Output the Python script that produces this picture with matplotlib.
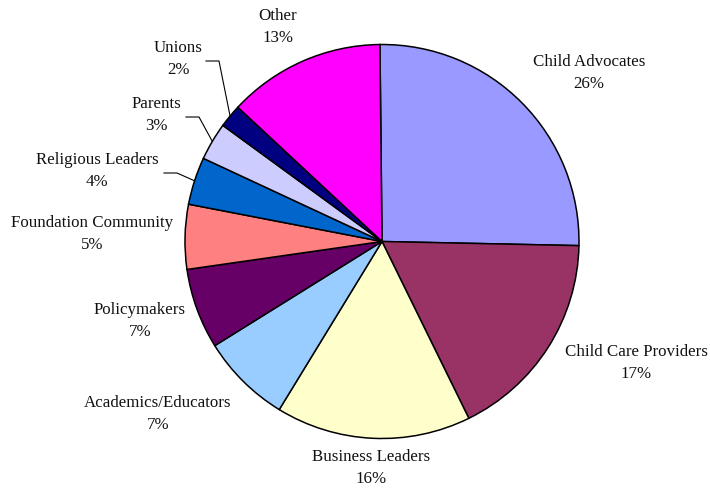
import numpy as np
import matplotlib
matplotlib.use("Agg")
import matplotlib.pyplot as plt

categories = ['Child Advocates', 'Child Care Providers', 'Business Leaders',
              'Academics/Educators', 'Policymakers', 'Foundation Community',
              'Religious Leaders', 'Parents', 'Unions', 'Other']
shares = [25.5, 17.4, 16.0, 7.4, 6.6, 5.3, 3.9, 3.1, 1.9, 12.9]
colors = ['#9999FF', '#993366', '#FFFFCC', '#99CCFF', '#660066',
          '#FF8080', '#0066CC', '#CCCCFF', '#000080', '#FF00FF']

# label block centres in pixels (x from left, y from top)
label_pos = [(589, 73), (636, 363), (371, 468), (158, 414), (140, 321),
             (92, 234), (97, 171), (156, 115), (178, 59), (278, 27)]
# leader lines: start x of the horizontal piece (None = no leader)
leader_x = [None, None, None, None, None, None, 164, 186, 206, None]

W, H = 710, 488
fig = plt.figure(figsize=(7.1, 4.88), dpi=100)
ax = fig.add_axes([0, 0, 1, 1])

cx, cy, r = 382, H - 241.5, 197
wedges, _ = ax.pie(shares, colors=colors, startangle=90.6, counterclock=False,
                   center=(cx, cy), radius=r, frame=True,
                   wedgeprops=dict(edgecolor='black', linewidth=1.1))
ax.set_xlim(0, W)
ax.set_ylim(0, H)
ax.axis('off')

for i, (name, val) in enumerate(zip(categories, shares)):
    lx, ly = label_pos[i]
    ax.text(lx, H - ly, '%s\n%.0f%%' % (name, val), ha='center', va='center',
            family='Liberation Serif', fontsize=12.2, linespacing=1.5,
            color='#111111')
    if leader_x[i] is not None:
        w = wedges[i]
        mid = np.deg2rad((w.theta1 + w.theta2) / 2)
        ex, ey = cx + r * np.cos(mid), cy + r * np.sin(mid)
        hx = leader_x[i]
        hy = H - ly - 2
        ax.plot([hx, hx + 13, ex], [hy, hy, ey], color='black', lw=0.8)

fig.savefig('out.png', dpi=100)
